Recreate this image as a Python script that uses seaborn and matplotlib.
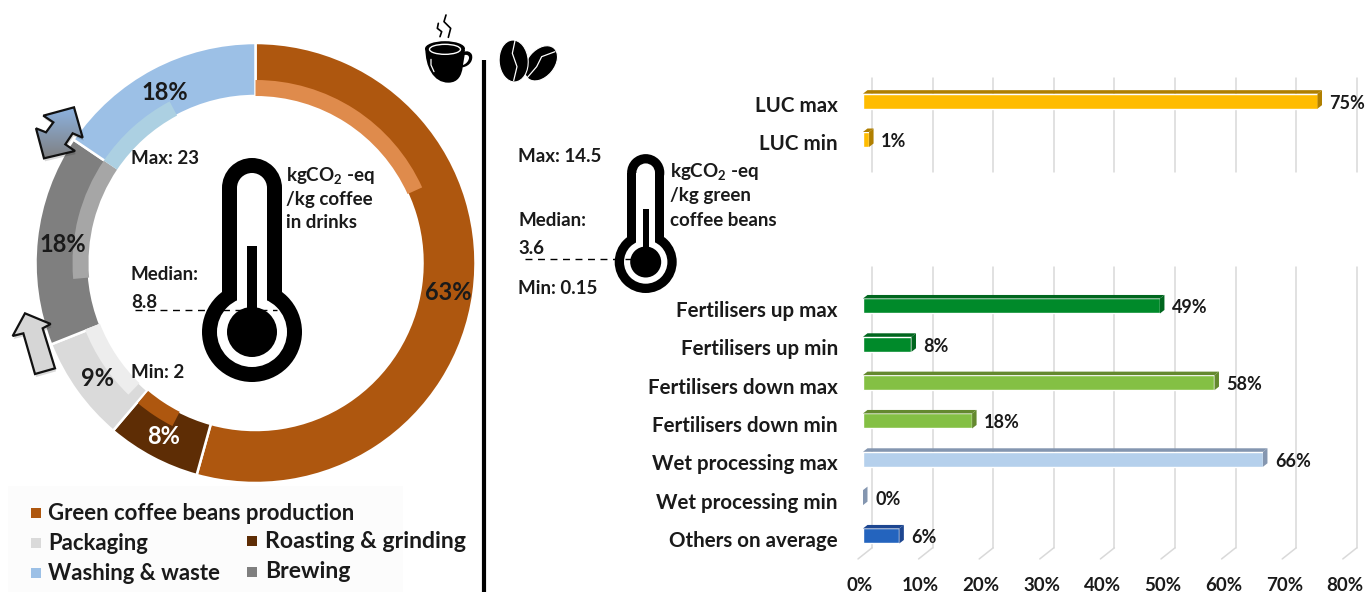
import matplotlib
matplotlib.use("Agg")
import matplotlib.pyplot as plt
import numpy as np
import seaborn as sns
from matplotlib.patches import Circle, Ellipse, PathPatch, Polygon, Rectangle, Wedge
from matplotlib.path import Path
from matplotlib.transforms import ScaledTranslation

W, H = 1365, 592

# donut data
pie_labels = ["Green coffee beans production", "Roasting & grinding", "Packaging", "Brewing", "Washing & waste"]
pie_values = [63, 8, 9, 18, 18]
pie_colors = ["#AE570F", "#5E2D05", "#DADADA", "#7F7F7F", "#9CC0E6"]
pie_text = ["63%", "8%", "9%", "18%", "18%"]
pie_text_colors = ["#1a1a1a", "white", "#1a1a1a", "#1a1a1a", "#1a1a1a"]

# lighter inner arcs, clockwise degrees from the top
arc_start = [0, 207, 224, 265, 304]
arc_end = [65.6, 220, 248.7, 304, 332]
arc_colors = ["#DF8B4C", "#AE570F", "#EDEDED", "#A6A6A6", "#ACD0E2"]

# bars
luc_labels = ["LUC max", "LUC min"]
luc_values = [75, 1]
luc_colors = ["#FFBC00", "#FFBC00"]
luc_dark = ["#B07F00", "#B07F00"]

other_labels = ["Fertilisers up max", "Fertilisers up min", "Fertilisers down max", "Fertilisers down min",
                "Wet processing max", "Wet processing min", "Others on average"]
other_values = [49, 8, 58, 18, 66, 0, 6]
other_colors = ["#008A2A", "#008A2A", "#84C044", "#84C044", "#B5D0EC", "#B5D0EC", "#2464BE"]
other_dark = ["#00661E", "#00661E", "#64892F", "#64892F", "#8496B0", "#8496B0", "#1D4690"]

x_ticks = [0, 10, 20, 30, 40, 50, 60, 70, 80]

PCT = 6.06  # px per 1%
ROW = 38.33  # px per bar row
FONT = "Lato"

sns.set_theme(style="white")
plt.rcParams["font.family"] = [FONT, "DejaVu Sans"]
plt.rcParams["mathtext.default"] = "regular"

fig = plt.figure(figsize=(W / 100, H / 100), dpi=100)


def px_axes(left, top, width, height):
    ax = fig.add_axes([left / W, 1 - (top + height) / H, width / W, height / H])
    ax.patch.set_alpha(0)
    return ax


############### DONUT ###############
ax_pie = px_axes(35.5, 43, 440, 440)
ax_pie.pie(pie_values, colors=pie_colors, startangle=90, counterclock=False, radius=1,
           wedgeprops=dict(width=53 / 220, edgecolor="white", linewidth=1.8))
for a, b, c in zip(arc_start, arc_end, arc_colors):
    ax_pie.add_patch(Wedge((0, 0), 183 / 220, 90 - b, 90 - a, width=16 / 220, color=c, lw=0, zorder=3))
ax_pie.set_xlim(-1, 1)
ax_pie.set_ylim(-1, 1)
ax_pie.axis("off")


############### BARS ###############
def bar_panel(ax, labels, values, colors, dark, grid_top, grid_bottom):
    sns.barplot(x=values, y=labels, hue=labels, palette=colors, width=15 / ROW, saturation=1,
                legend=False, ax=ax)
    ax.set_xlim(0, 80)
    ax.set_ylim(len(labels) - 0.5, -0.5)
    sns.despine(ax=ax, left=True, bottom=True)
    ax.set_xlabel("")
    ax.set_ylabel("")
    dx, dy = 4.5 / PCT, 3.5 / ROW
    for v in x_ticks:
        ax.plot([v + 9 / PCT] * 2, [grid_top, grid_bottom], color="#D9D9D9", lw=1.1, zorder=0, clip_on=False)
    for i, p in enumerate(ax.patches[:len(values)]):
        x1, y0, y1 = p.get_width(), p.get_y(), p.get_y() + p.get_height()
        ax.add_patch(Polygon([(0, y0), (dx, y0 - dy), (x1 + dx, y0 - dy), (x1, y0)], color=dark[i], lw=0, clip_on=False))
        ax.add_patch(Polygon([(x1, y0), (x1 + dx, y0 - dy), (x1 + dx, y1 - dy), (x1, y1)], color=dark[i], lw=0, clip_on=False))
        ax.text(x1 + 12 / PCT, i + 2 / ROW, "%d%%" % values[i], ha="left", va="center",
                fontsize=13, fontweight="bold", color="#1a1a1a", clip_on=False)
    ax.tick_params(axis="y", length=0, pad=18, labelsize=14.8, labelcolor="#1a1a1a")
    shift = ScaledTranslation(0, -3 / 100, fig.dpi_scale_trans)
    for t in ax.get_yticklabels():
        t.set_fontweight("bold")
        t.set_transform(t.get_transform() + shift)


ax_top = px_axes(863, 82, 80 * PCT, 2 * ROW)
bar_panel(ax_top, luc_labels, luc_values, luc_colors, luc_dark, -0.6, 1.85)
ax_top.set_xticks([])

ax_low = px_axes(863, 286.8, 80 * PCT, 7 * ROW)
bar_panel(ax_low, other_labels, other_values, other_colors, other_dark, -1.02, 6.31)
ax_low.set_xticks(x_ticks)
ax_low.set_xticklabels(["%d%%" % v for v in x_ticks], fontweight="bold", fontsize=13.5, color="#1a1a1a")
ax_low.tick_params(axis="x", length=0, pad=15.5)
shift_x = ScaledTranslation(-3 / 100, 0, fig.dpi_scale_trans)
for t in ax_low.get_xticklabels():
    t.set_transform(t.get_transform() + shift_x)
# little feet under the grid lines
for v in x_ticks:
    ax_low.plot([v + 9 / PCT, v - 5 / PCT], [6.31, 6.6], color="#D9D9D9", lw=1.1, zorder=0, clip_on=False)


############### OVERLAY (pixel coords) ###############
ov = fig.add_axes([0, 0, 1, 1], zorder=5)
ov.patch.set_alpha(0)
ov.set_xlim(0, W)
ov.set_ylim(H, 0)
ov.axis("off")


def txt(x, y, s, size=13.5, color="#1a1a1a", ha="left", weight="bold"):
    ov.text(x, y + 1, s, fontsize=size, color=color, ha=ha, va="center", fontweight=weight)


def thermometer(cx, cy, k):
    for r_bulb, half, col in [(50, 30, "black"), (35, 15, "white")]:
        ov.add_patch(Circle((cx, cy), r_bulb * k, color=col, lw=0))
        ov.add_patch(Rectangle((cx - half * k, cy - 144 * k), 2 * half * k, 144 * k, color=col, lw=0))
        ov.add_patch(Circle((cx, cy - 144 * k), half * k, color=col, lw=0))
    ov.add_patch(Circle((cx, cy), 25 * k, color="black", lw=0))
    ov.add_patch(Rectangle((cx - 5 * k, cy - 86 * k), 10 * k, 86 * k, color="black", lw=0))


# legend
ov.add_patch(Rectangle((8, 486), 395, 106, color="#FCFCFC", lw=0, zorder=0))
legend_pos = [(31, 513, 48, 512), (247, 541, 265, 540), (31, 543, 48, 543), (247, 572, 265, 571), (31, 573, 48, 573)]
legend_size = [15.9, 16.6, 15.9, 16.6, 15.9]
for lab, col, (sx, sy, tx, ty), fs in zip(pie_labels, pie_colors, legend_pos, legend_size):
    ov.add_patch(Rectangle((sx, sy - 5), 10, 10, color=col, lw=0))
    txt(tx, ty, lab, size=fs)

# donut texts
pie_text_pos = [(448, 291), (164, 436), (98, 377), (63, 243), (165, 92)]
for s, c, (x, y) in zip(pie_text, pie_text_colors, pie_text_pos):
    txt(x, y, s, size=17, color=c, ha="center")

# left thermometer
thermometer(252, 332, 1)
ov.plot([135, 277], [310, 310], color="black", lw=1, ls=(0, (5, 4)))
txt(131, 158, "Max: 23")
txt(131, 273, "Median:")
txt(131, 301, "8.8")
txt(131, 371, "Min: 2")
txt(286, 174, "kgCO$_2$ -eq")
txt(286, 198, "/kg coffee")
txt(286, 222, "in drinks")

# right thermometer
thermometer(645.7, 262, 0.62)
ov.plot([525, 660], [259, 259], color="black", lw=1, ls=(0, (5, 4)))
txt(518, 155, "Max: 14.5")
txt(518, 220, "Median:")
txt(518, 247, "3.6")
txt(518, 287, "Min: 0.15")
txt(670, 170, "kgCO$_2$ -eq")
txt(670, 195, "/kg green")
txt(670, 219, "coffee beans")

# divider
ov.plot([484, 484], [60, 592], color="black", lw=3, solid_capstyle="butt")

# arrows
dbl = [(222, 37), (130, 62), (160, 82), (138, 112), (108, 100), (132, 190), (225, 168), (196, 148), (218, 115), (248, 128)]
dbl = [(x / 3, y / 3 + 95) for x, y in dbl]
ov.add_patch(Polygon([(x + 1, y + 3) for x, y in dbl], color="black", alpha=0.15, lw=0))
grad = np.linspace(0, 1, 64).reshape(-1, 1)
cmap = matplotlib.colors.LinearSegmentedColormap.from_list("arr", ["#8DB3E2", "#7F7F7F"])
im = ov.imshow(grad, cmap=cmap, extent=(34, 84, 160, 106), aspect="auto", zorder=6)
im.set_clip_path(Polygon(dbl, transform=ov.transData))
ov.add_patch(Polygon(dbl, fill=False, edgecolor="#111111", lw=1.6, zorder=7))

up = [(75, 40), (38, 108), (70, 100), (105, 222), (165, 205), (128, 85), (152, 72)]
up = [(x / 3, y / 3 + 300) for x, y in up]
ov.add_patch(Polygon([(x + 1, y + 3) for x, y in up], color="black", alpha=0.15, lw=0))
ov.add_patch(Polygon(up, facecolor="#D6D6D6", edgecolor="#111111", lw=1.6, zorder=7))


# cup icon, zoomed crop coords /3
def ic(x, y):
    return (420 + x / 3, 10 + y / 3)


C4, M = Path.CURVE4, Path.MOVETO
body = [(16, 115), (16, 170), (40, 218), (85, 218), (115, 218), (125, 195), (128, 172),
        (150, 168), (160, 150), (156, 135), (152, 124), (140, 122), (134, 125), (135, 120)]
codes = [M, C4, C4, C4, C4, C4, C4, C4, C4, C4, C4, C4, C4, Path.LINETO]
ov.add_patch(PathPatch(Path([ic(*p) for p in body] + [ic(16, 115)], codes + [Path.LINETO]), color="black", lw=0))
ov.add_patch(Ellipse(ic(75, 116), 40, 15, color="black", lw=0))
ov.add_patch(Ellipse(ic(75, 118), 31, 10, fill=False, edgecolor="white", lw=1))
hole = [(134, 135), (148, 132), (152, 145), (140, 158), (136, 162), (132, 164), (129, 165)]
ov.add_patch(PathPatch(Path([ic(*p) for p in hole] + [ic(134, 135)], [M, C4, C4, C4, C4, C4, C4, Path.LINETO]), color="white", lw=0))
ov.plot(*zip(*[ic(33, 148), ic(33, 165), ic(42, 185)]), color="white", lw=0.9)
ov.plot(*zip(*[ic(55, 40), ic(52, 55), ic(65, 65), ic(60, 80)]), color="black", lw=1.2)
ov.plot(*zip(*[ic(78, 15), ic(72, 35), ic(92, 55), ic(85, 82)]), color="black", lw=1.2)

# beans
ov.add_patch(Ellipse(ic(363, 160), 40, 27, angle=-50, facecolor="black", edgecolor="white", lw=0.8))
ov.add_patch(Ellipse(ic(281, 153), 29, 42, angle=-4, facecolor="black", edgecolor="white", lw=0.8))
ov.plot(*zip(*[ic(285, 92), ic(277, 130), ic(291, 170), ic(281, 212)]), color="white", lw=0.9)
ov.plot(*zip(*[ic(320, 205), ic(350, 170), ic(365, 140), ic(405, 125)]), color="white", lw=0.9)

ov.set_xlim(0, W)
ov.set_ylim(H, 0)

fig.savefig("out.png", dpi=100)
